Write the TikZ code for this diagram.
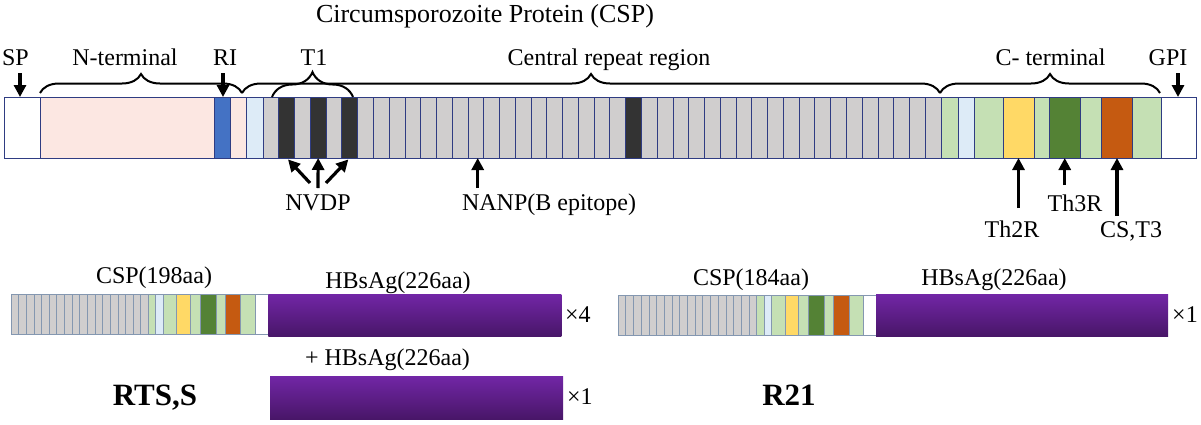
\documentclass[tikz,border=0pt]{standalone}
\usepackage{fontspec}
\setmainfont{Liberation Serif}
\usetikzlibrary{arrows.meta,decorations.pathreplacing,calc}
\definecolor{navy}{RGB}{47,60,130}
\definecolor{pinkc}{RGB}{252,231,226}
\definecolor{ribl}{RGB}{68,114,196}
\definecolor{ltbl}{RGB}{221,235,247}
\definecolor{grayc}{RGB}{208,206,206}
\definecolor{darkc}{RGB}{51,51,51}
\definecolor{grnc}{RGB}{197,224,180}
\definecolor{yelc}{RGB}{255,217,102}
\definecolor{dgrn}{RGB}{84,130,53}
\definecolor{orgc}{RGB}{197,90,17}
\definecolor{purtop}{RGB}{114,38,166}
\definecolor{purbot}{RGB}{72,22,104}
\definecolor{thinb}{RGB}{132,151,176}
\newcommand\mcell[4]{\node[cell,fill=#3,minimum width=#2pt] (#4) at (#1,-97) {};}
\newcommand\ctail[3]{%
  \foreach \o/\w/\c [count=\k] in {0/7.4/grnc,7.4/7.6/ltbl,15/13.4/grnc,28.4/13.3/yelc,41.7/10/grnc,51.7/16/dgrn,67.7/9.3/grnc,77/15.4/orgc,92.4/14.3/grnc,106.7/13.3/white}
  {\node[scell,fill=\c,minimum width=\w pt] (#3t\k) at (#1+\o,#2) {};}%
}
\begin{document}
\begin{tikzpicture}[x=1pt,y=1pt,
  every node/.style={font=\fontsize{24}{28}\selectfont},
  cell/.style={draw=navy,line width=0.8pt,inner sep=0,outer sep=0,anchor=north west,minimum height=61pt},
  scell/.style={draw=thinb,line width=0.6pt,inner sep=0,outer sep=0,anchor=north west,minimum height=40pt},
  purbar/.style={inner sep=0,outer sep=0,anchor=north west,top color=purtop,bottom color=purbot,draw=none},
  arr/.style={line width=3.2pt,-{Triangle[length=12pt,width=12pt]}},
  brc/.style={decorate,decoration={brace,amplitude=19pt},line width=2pt},
  lab/.style={anchor=base,inner sep=0},
  bigl/.style={anchor=base,inner sep=0,font=\fontsize{31}{36}\selectfont\bfseries},
]
\useasboundingbox (0,0) rectangle (1201,-424);

% ---------- main bar ----------
\mcell{4}{36}{white}{cSP}
\mcell{40}{174}{pinkc}{cN}
\mcell{214}{16}{ribl}{cRI}
\mcell{230}{16}{pinkc}{cN2}
\mcell{246}{17}{ltbl}{cLB}
\foreach \i in {0,...,42}{
  \node[cell,fill=grayc,minimum width=15.767pt] (g\i) at (263+\i*15.767,-97) {};
}
\foreach \i/\n in {1/dA,3/dB,5/dC,23/dD}{
  \node[cell,fill=darkc,minimum width=15.767pt] (\n) at (263+\i*15.767,-97) {};
}
\mcell{941}{17}{grnc}{c1}
\mcell{958}{16}{ltbl}{c2}
\mcell{974}{29}{grnc}{c3}
\mcell{1003}{31}{yelc}{cY}
\mcell{1034}{15}{grnc}{c5}
\mcell{1049}{31.5}{dgrn}{cDG}
\mcell{1080.5}{21}{grnc}{c7}
\mcell{1101.5}{31}{orgc}{cOR}
\mcell{1132.5}{28.5}{grnc}{c9}
\mcell{1161}{35}{white}{cGPI}

% ---------- braces ----------
\draw[brc] (40,-93) -- (242,-93);
\draw[brc] (242,-93) -- (940,-93);
\draw[brc] (940,-93) -- (1160,-93);
\draw[brc,decoration={brace,amplitude=25pt}] (272,-97) -- (353,-97);

% ---------- top labels ----------
\node[lab,font=\fontsize{26}{30}\selectfont] (title) at (485,-22) {Circumsporozoite Protein (CSP)};
\node[lab] (lSP) at (15.5,-65) {SP};
\node[lab] (lN) at (125,-65) {N-terminal};
\node[lab] (lRI) at (225,-65) {RI};
\node[lab] (lT1) at (314,-65) {T1};
\node[lab] (lCR) at (609,-65) {Central repeat region};
\node[lab] (lC) at (1050.5,-65) {C- terminal};
\node[lab] (lGPI) at (1168,-65) {GPI};

% ---------- top arrows ----------
\coordinate (tSP) at (20,-73);
\coordinate (tRI) at (223,-73);
\coordinate (tGPI) at (1178,-73);
\draw[arr] (tSP) -- (tSP |- cSP.north);
\draw[arr] (tRI) -- (tRI |- cRI.north);
\draw[arr] (tGPI) -- (tGPI |- cGPI.north);

% ---------- bottom labels and arrows ----------
\node[lab] (lNV) at (318,-210) {NVDP};
\coordinate (n1) at (310,-183);
\coordinate (n2) at (318,-188);
\coordinate (n3) at (326,-183);
\draw[arr,shorten >=2pt] (n1) -- (dA.south);
\draw[arr] (n2) -- (dB.south);
\draw[arr,shorten >=2pt] (n3) -- (dC.south);

\node[lab] (lNA) at (549,-210) {NANP(B epitope)};
\coordinate (na) at (477.7,-188);
\draw[arr] (na) -- (na |- g13.south);

\node[lab] (lTh2) at (1012,-237) {Th2R};
\coordinate (th2) at (1018.5,-208);
\draw[arr] (th2) -- (cY.south);
\node[lab] (lTh3) at (1075,-211) {Th3R};
\coordinate (th3) at (1064.75,-185);
\draw[arr] (th3) -- (cDG.south);
\node[lab] (lCS) at (1131,-237) {CS,T3};
\coordinate (cs) at (1117,-216);
\draw[arr] (cs) -- (cOR.south);

% ---------- RTS,S ----------
\foreach \i in {0,...,17}{
  \node[scell,fill=grayc,minimum width=7.63pt] (lg\i) at (11+\i*7.63,-294.3) {};
}
\ctail{148.3}{-294.3}{L}
\node[purbar,minimum width=293pt,minimum height=42.5pt] (hb1) at (268.3,-294) {};
\node[purbar,minimum width=293pt,minimum height=43pt] (hb2) at (270,-376) {};
\node[lab] (lcsp1) at (154,-283) {CSP(198aa)};
\node[lab] (lhb1) at (398,-288) {HBsAg(226aa)};
\node[lab] (lhb2) at (387.5,-365) {+ HBsAg(226aa)};
\node[lab,anchor=base west] (x4) at (565,-322) {×4};
\node[lab,anchor=base west] (x1a) at (567,-404) {×1};
\node[bigl] (rts) at (155,-405) {RTS,S};

% ---------- R21 ----------
\foreach \i in {0,...,17}{
  \node[scell,fill=grayc,minimum width=7.706pt] (rg\i) at (618+\i*7.706,-295) {};
}
\ctail{756.7}{-295}{R}
\node[purbar,minimum width=292pt,minimum height=42pt] (hb3) at (876,-294) {};
\node[lab] (lcsp2) at (751,-285) {CSP(184aa)};
\node[lab] (lhb3) at (994,-285) {HBsAg(226aa)};
\node[lab,anchor=base west] (x1b) at (1172,-322) {×1};
\node[bigl] (r21) at (789,-405) {R21};
\end{tikzpicture}
\end{document}
